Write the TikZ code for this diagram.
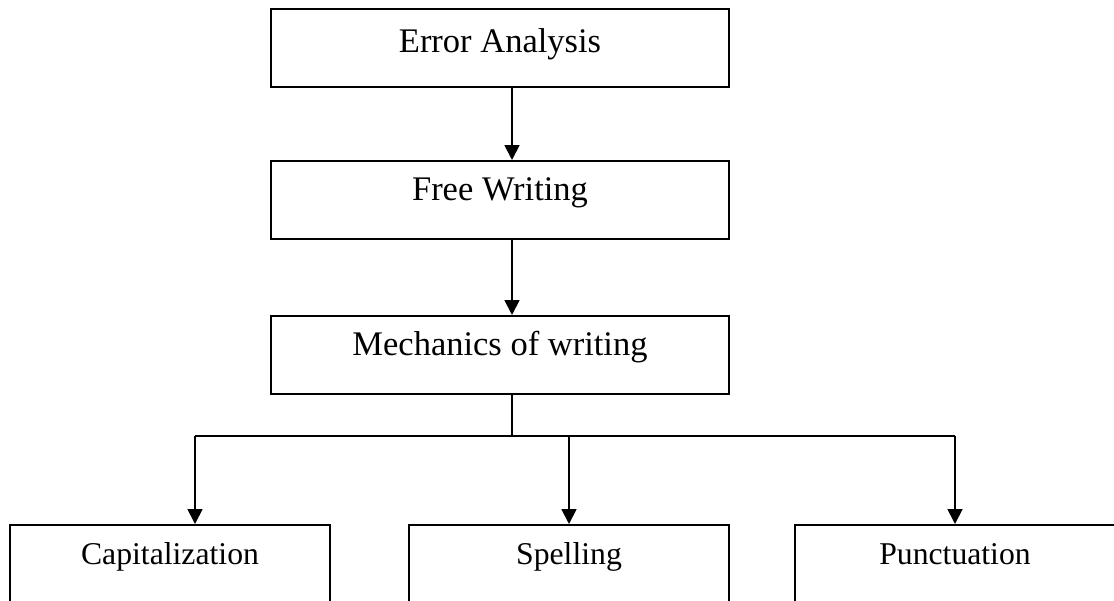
\documentclass[tikz,border=0pt]{standalone}
\usepackage{fontspec}
\setmainfont{Liberation Serif}
\usetikzlibrary{arrows.meta,positioning}

\begin{document}
\begin{tikzpicture}[x=1pt,y=-1pt,
    box/.style={draw,line width=2pt,inner sep=0pt,minimum height=78pt,
      text height=10pt,text depth=10pt},
    topbox/.style={box,minimum width=458pt,font=\fontsize{34.5}{40}\selectfont},
    leafbox/.style={box,minimum width=320pt,font=\fontsize{31.7}{38}\selectfont},
    link/.style={line width=1.8pt},
    arr/.style={link,-{Triangle[length=15pt,width=15pt]}}]
      \useasboundingbox (0,0) rectangle (1114,600);
      % Chain
      \node[topbox,text height=14pt,text depth=6pt] (err) at (500,48) {Error Analysis};
      \node[topbox] (free) at (500,200) {Free Writing};
      \node[topbox] (mech) at (500,355) {Mechanics of writing};
      % Leaves
      \node[leafbox] (cap)   at (170,564) {Capitalization};
      \node[leafbox] (spell) at (569,564) {Spelling};
      \node[leafbox] (punct) at (955,564) {Punctuation};
      % Junction points
      \coordinate (spine) at (512,436);
      \coordinate (capx)  at (195,436);
      % Arrows
      \draw[arr] (err.south -| spine) -- (free.north -| spine);
      \draw[arr] (free.south -| spine) -- (mech.north -| spine);
      \draw[link] (mech.south -| spine) -- (spine);
      \draw[link] (capx) -- (punct.north |- capx);
      \draw[arr] (capx) -- (cap.north -| capx);
      \draw[arr] (spell.north |- capx) -- (spell.north);
      \draw[arr] (punct.north |- capx) -- (punct.north);
    \end{tikzpicture}
\end{document}
